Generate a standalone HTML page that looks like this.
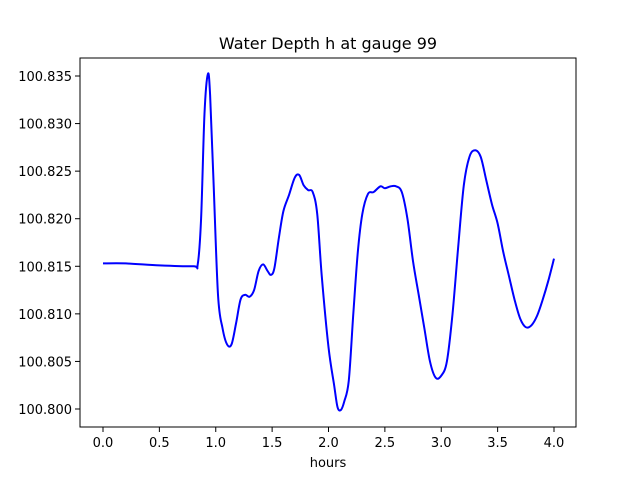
<!DOCTYPE html>
<html><head><meta charset="utf-8"><style>
body{margin:0;background:#fff}
svg{display:block;font-family:"DejaVu Sans","Liberation Sans",sans-serif}
</style></head><body>
<svg id="chart" width="640" height="480" xmlns="http://www.w3.org/2000/svg">
<rect width="640" height="480" fill="#fff"/>
<text x="328" y="49" font-size="16" text-anchor="middle">Water Depth h at gauge 99</text>
<g id="plot"></g>
<rect x="80" y="58" width="496" height="369" fill="none" stroke="#000" stroke-width="1"/>
<text x="328" y="467" font-size="13" text-anchor="middle">hours</text>
</svg>
<script>
const hours=[0,0.2,0.5,0.8,0.84,0.87,0.9,0.93,0.95,0.98,1.02,1.06,1.1,1.14,1.18,1.22,1.26,1.3,1.34,1.38,1.42,1.46,1.49,1.52,1.56,1.6,1.65,1.7,1.74,1.78,1.82,1.86,1.9,1.94,2.0,2.05,2.08,2.11,2.14,2.18,2.22,2.26,2.3,2.35,2.4,2.46,2.5,2.55,2.6,2.65,2.7,2.75,2.8,2.85,2.9,2.95,3.0,3.05,3.1,3.15,3.2,3.25,3.3,3.35,3.4,3.45,3.5,3.55,3.6,3.65,3.7,3.75,3.8,3.85,3.9,3.95,4.0];
const depth=[100.8153,100.8153,100.8151,100.8150,100.8152,100.820,100.831,100.8352,100.833,100.824,100.812,100.8085,100.8068,100.8068,100.809,100.8115,100.8120,100.8118,100.8125,100.8145,100.8152,100.8145,100.8141,100.8148,100.818,100.8208,100.8225,100.8243,100.8246,100.8235,100.8230,100.8228,100.8205,100.814,100.8065,100.8025,100.8002,100.7999,100.8008,100.8030,100.810,100.8165,100.8205,100.8226,100.8228,100.8234,100.8232,100.8234,100.8234,100.8228,100.820,100.8155,100.812,100.8085,100.805,100.8033,100.8035,100.805,100.810,100.817,100.8235,100.8265,100.8272,100.8265,100.824,100.8215,100.8195,100.8165,100.814,100.8115,100.8095,100.8086,100.8088,100.8098,100.8115,100.8135,100.8158];
const xTicks=[0,0.5,1,1.5,2,2.5,3,3.5,4];
const xTickLabels=["0.0","0.5","1.0","1.5","2.0","2.5","3.0","3.5","4.0"];
const yTicks=[100.800,100.805,100.810,100.815,100.820,100.825,100.830,100.835];
const yTickLabels=["100.800","100.805","100.810","100.815","100.820","100.825","100.830","100.835"];
const NS="http://www.w3.org/2000/svg";
const sx=v=>103+(v-0)*(554-103)/4;
const sy=v=>409-(v-100.800)*(409-76)/0.035;
const g=document.getElementById('plot');
function mk(t,a){const e=document.createElementNS(NS,t);for(const k in a)e.setAttribute(k,a[k]);return e;}
xTicks.forEach((t,i)=>{
 const l=mk('line',{x1:sx(t),x2:sx(t),y1:427,y2:432,stroke:'#000'});
 
 
 g.appendChild(l);
 const tx=mk('text',{x:sx(t),y:447,'font-size':13,'text-anchor':'middle'});
 
 
 tx.textContent=xTickLabels[i];g.appendChild(tx);
});
yTicks.forEach((t,i)=>{
 const l=mk('line',{x1:75,x2:80,y1:sy(t),y2:sy(t),stroke:'#000'});
 
 
 g.appendChild(l);
 const tx=mk('text',{x:72,y:sy(t)+5,'font-size':13,'text-anchor':'end'});
 
 
 tx.textContent=yTickLabels[i];g.appendChild(tx);
});
const P=hours.map((h,i)=>[sx(h),sy(depth[i])]);
let d='M'+P[0][0]+','+P[0][1];
for(let i=0;i<P.length-1;i++){
 const p0=P[Math.max(i-1,0)],p1=P[i],p2=P[i+1],p3=P[Math.min(i+2,P.length-1)];
 const c1=[p1[0]+(p2[0]-p0[0])/6,p1[1]+(p2[1]-p0[1])/6];
 const c2=[p2[0]-(p3[0]-p1[0])/6,p2[1]-(p3[1]-p1[1])/6];
 d+=' C'+c1+' '+c2+' '+p2;
}
const path=mk('path',{d:d,fill:'none',stroke:'#0000ff','stroke-width':2,'stroke-linejoin':'round'});


g.appendChild(path);
</script>
</body></html>
